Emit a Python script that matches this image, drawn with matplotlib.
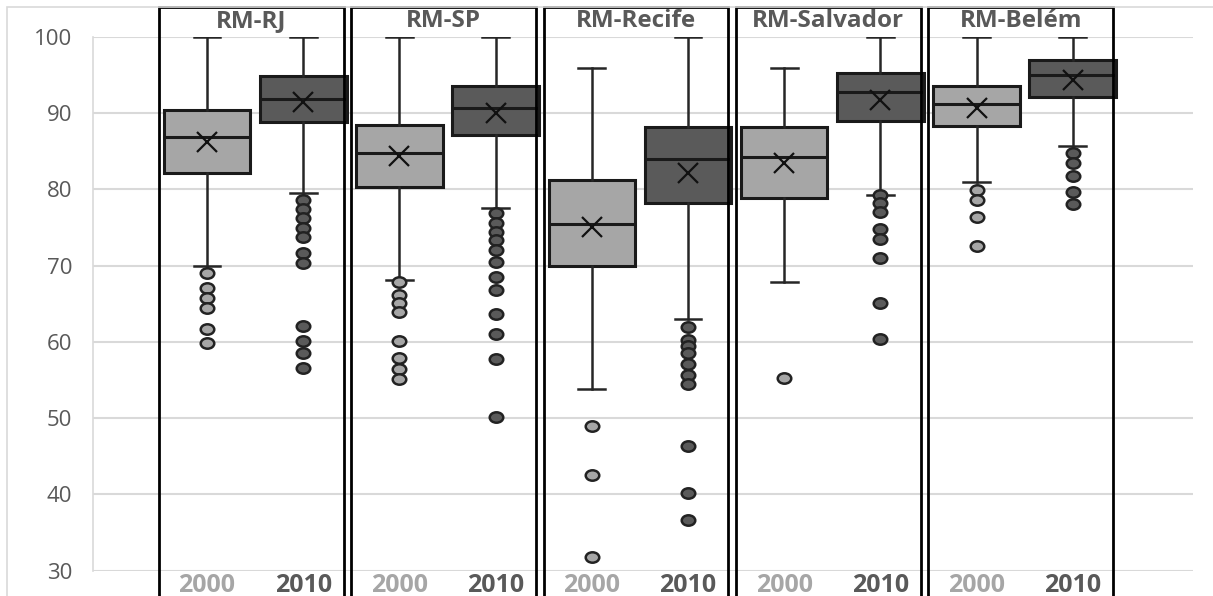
import matplotlib
matplotlib.use("Agg")
import matplotlib.pyplot as plt
from matplotlib.patches import Rectangle
from matplotlib.markers import MarkerStyle
from matplotlib.transforms import Affine2D

regions = ["RM-RJ", "RM-SP", "RM-Recife", "RM-Salvador", "RM-Belém"]
years = ["2000", "2010"]

# box statistics (2000)
lo_2000 = [69.9, 68.1, 53.8, 67.9, 80.9]
q1_2000 = [82.2, 80.3, 69.9, 78.8, 88.3]
med_2000 = [86.8, 84.7, 75.5, 84.2, 91.2]
q3_2000 = [90.4, 88.4, 81.2, 88.2, 93.5]
hi_2000 = [100.0, 100.0, 95.9, 95.9, 100.0]
mean_2000 = [86.2, 84.3, 75.0, 83.5, 90.7]
out_2000 = [
    [69.0, 67.0, 65.8, 64.4, 61.7, 59.9],
    [67.8, 66.2, 65.1, 63.9, 60.1, 57.9, 56.4, 55.2],
    [49.0, 42.6, 31.8],
    [55.3],
    [79.9, 78.6, 76.4, 72.6],
]

# box statistics (2010)
lo_2010 = [79.5, 77.6, 63.0, 79.2, 85.7]
q1_2010 = [88.8, 87.1, 78.2, 89.0, 92.1]
med_2010 = [91.9, 90.6, 84.0, 92.8, 95.0]
q3_2010 = [94.8, 93.6, 88.2, 95.3, 96.9]
hi_2010 = [100.0, 100.0, 100.0, 100.0, 100.0]
mean_2010 = [91.5, 90.0, 82.2, 91.7, 94.3]
out_2010 = [
    [78.6, 77.4, 76.2, 74.9, 73.7, 71.7, 70.4, 62.1, 60.1, 58.5, 56.6],
    [76.9, 75.6, 74.4, 73.4, 72.1, 70.5, 68.5, 66.8, 63.7, 61.1, 57.7, 50.2],
    [61.9, 60.3, 59.5, 58.6, 57.1, 55.7, 54.5, 46.4, 40.2, 36.6],
    [79.3, 78.2, 77.0, 74.8, 73.5, 71.0, 65.1, 60.4],
    [84.7, 83.4, 81.7, 79.7, 78.1],
]

yticks = [30, 40, 50, 60, 70, 80, 90, 100]

light = "#a6a6a6"
dark = "#5a5a5a"
txt = "#595959"
grid = "#d9d9d9"
font = "Open Sans"


def make_stats(lo, q1, med, q3, hi, mean, out):
    stats = []
    for i in range(len(lo)):
        stats.append(dict(whislo=lo[i], q1=q1[i], med=med[i], q3=q3[i],
                          whishi=hi[i], mean=mean[i], fliers=out[i]))
    return stats


fig = plt.figure(figsize=(12.13, 5.96), dpi=100)
ax = fig.add_axes([0.0767, 0.0423, 0.9068, 0.8961])

pos_2000 = [1 + 2 * i for i in range(len(regions))]
pos_2010 = [2 + 2 * i for i in range(len(regions))]

# the outliers in the original are slightly flattened circles
oval = MarkerStyle("o", transform=Affine2D().scale(1.3, 1.0))

for stats, pos, fill in [
    (make_stats(lo_2000, q1_2000, med_2000, q3_2000, hi_2000, mean_2000, out_2000), pos_2000, light),
    (make_stats(lo_2010, q1_2010, med_2010, q3_2010, hi_2010, mean_2010, out_2010), pos_2010, dark),
]:
    ax.bxp(stats, positions=pos, widths=0.9, capwidths=0.28,
           showmeans=True, patch_artist=True, manage_ticks=False,
           boxprops=dict(facecolor=fill, edgecolor="#1a1a1a", linewidth=2.2),
           medianprops=dict(color="#1a1a1a", linewidth=2.2),
           whiskerprops=dict(color="#262626", linewidth=1.8),
           capprops=dict(color="#262626", linewidth=1.8),
           meanprops=dict(marker="x", markersize=15, markeredgewidth=1.6,
                          markeredgecolor="#111111"),
           flierprops=dict(marker=oval, markersize=7.5, markerfacecolor=fill,
                           markeredgecolor="#222222", markeredgewidth=1.8))

ax.set_ylim(30, 100)
ax.set_xlim(-0.185, 11.25)
ax.set_yticks(yticks)
ax.set_yticklabels([str(v) for v in yticks], family=font, fontsize=16, color=txt)
ax.tick_params(axis="y", length=0, pad=15)
ax.set_xticks([])
ax.yaxis.grid(True, color=grid, linewidth=1.5)
ax.set_axisbelow(True)
for s in ["top", "right", "bottom"]:
    ax.spines[s].set_visible(False)
ax.spines["left"].set_color(grid)
ax.spines["left"].set_linewidth(1.2)

# black frame around each region pair, with title and year labels
for i, name in enumerate(regions):
    x0 = pos_2000[i] - 0.5
    ax.add_patch(Rectangle((x0, 20), 1.92, 83.9, fill=False, edgecolor="black",
                           linewidth=2, clip_on=False, zorder=5))
    ax.text(x0 + 0.96, 101.3, name, ha="center", va="baseline", family=font,
            fontsize=17.5, fontweight="bold", color=txt, clip_on=False)
    ax.text(pos_2000[i], 27.2, years[0], ha="center", va="baseline", family=font,
            fontsize=18, fontweight="bold", color=light, clip_on=False)
    ax.text(pos_2010[i], 27.2, years[1], ha="center", va="baseline", family=font,
            fontsize=18, fontweight="bold", color=txt, clip_on=False)

# faint outer chart border
fig.patches.append(Rectangle((7 / 1213, -0.1), 1.2, 1 - 7 / 596 + 0.1,
                             transform=fig.transFigure, fill=False,
                             edgecolor=grid, linewidth=1.2))

fig.savefig("out.png", dpi=100)
